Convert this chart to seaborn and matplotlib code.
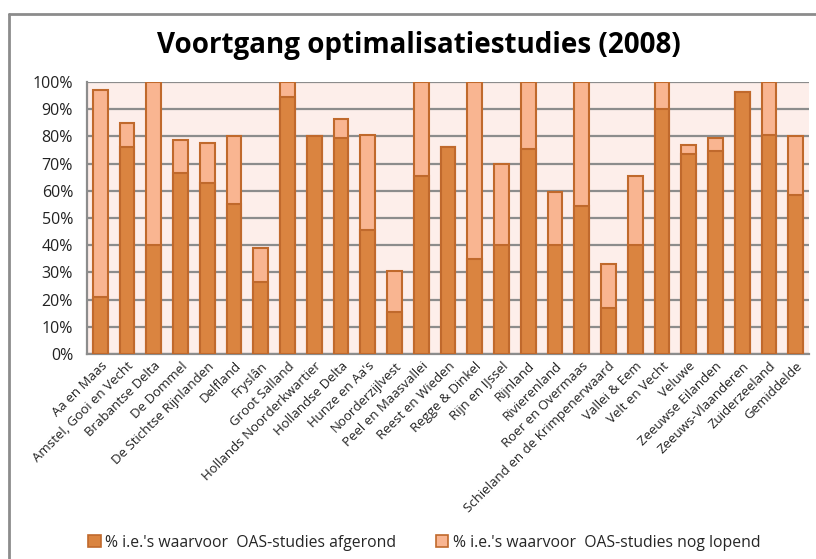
import seaborn as sns
import matplotlib.pyplot as plt
from matplotlib.patches import Patch
from matplotlib.lines import Line2D
from matplotlib.ticker import PercentFormatter

categories = ["Aa en Maas", "Amstel, Gooi en Vecht", "Brabantse Delta", "De Dommel",
              "De Stichtse Rijnlanden", "Delfland", "Fryslân", "Groot Salland",
              "Hollands Noorderkwartier", "Hollandse Delta", "Hunze en Aa's",
              "Noorderzijlvest", "Peel en Maasvallei", "Reest en Wieden",
              "Regge & Dinkel", "Rijn en IJssel", "Rijnland", "Rivierenland",
              "Roer en Overmaas", "Schieland en de Krimpenerwaard", "Vallei & Eem",
              "Velt en Vecht", "Veluwe", "Zeeuwse Eilanden", "Zeeuws-Vlaanderen",
              "Zuiderzeeland", "Gemiddelde"]
afgerond = [21, 76, 40, 66.5, 63, 55, 26.5, 94.5, 80, 79.5, 45.5, 15.5, 65.5, 76,
            35, 40, 75.5, 40, 54.5, 17, 40, 90, 73.5, 74.5, 96.5, 80.5, 58.5]
lopend = [76, 9, 60, 12, 14.5, 25, 12.5, 5.5, 0, 7, 35, 15, 34.5, 0,
          65, 30, 24.5, 19.5, 45.5, 16, 25.5, 10, 3.5, 5, 0, 19.5, 21.5]
totaal = [a + b for a, b in zip(afgerond, lopend)]

dark = "#DA8440"
light = "#F9B591"
edge = "#C0692C"

sns.set_style("white")
plt.rcParams['font.family'] = ['Open Sans', 'DejaVu Sans']

fig = plt.figure(figsize=(8.16, 5.59), dpi=100)
ax = fig.add_axes([87 / 816, 1 - 354 / 559, (809 - 87) / 816, (354 - 82) / 559])
ax.set_facecolor("#FDEEEA")

sns.barplot(x=categories, y=totaal, color=light, edgecolor=edge, linewidth=1.5,
            width=0.55, saturation=1, ax=ax, zorder=3)
sns.barplot(x=categories, y=afgerond, color=dark, edgecolor=edge, linewidth=1.5,
            width=0.55, saturation=1, ax=ax, zorder=4)

ax.set_ylim(0, 100)
ax.set_xlim(-0.5, len(categories) - 0.5)
ax.set_yticks(range(0, 101, 10))
ax.yaxis.set_major_formatter(PercentFormatter(decimals=0))
ax.grid(axis="y", color="#8C8C8C", linewidth=1.6, zorder=0)
ax.set_axisbelow(True)
for s in ["top", "right"]:
    ax.spines[s].set_visible(False)
for s in ["left", "bottom"]:
    ax.spines[s].set_color("#8C8C8C")
    ax.spines[s].set_linewidth(1.6)
ax.tick_params(axis="y", labelsize=11.5, length=0, pad=10, colors="#222222")
ax.tick_params(axis="x", length=0, pad=4)
ax.set_xticks(range(len(categories)))
ax.set_xticklabels(categories, rotation=45, ha="right", rotation_mode="anchor",
                   fontsize=9.5, color="#222222")
ax.set_xlabel("")
ax.set_ylabel("")

fig.text(0.513, 0.918, "Voortgang optimalisatiestudies (2008)", ha="center", va="center",
         fontsize=20, fontweight="bold", color="black")

handles = [Patch(facecolor=dark, edgecolor=edge, linewidth=1.2),
           Patch(facecolor=light, edgecolor=edge, linewidth=1.2)]
labels = ["% i.e.'s waarvoor  OAS-studies afgerond", "% i.e.'s waarvoor  OAS-studies nog lopend"]
fig.legend(handles, labels, loc="center", bbox_to_anchor=(0.52, 0.029), ncol=2,
           frameon=False, fontsize=11.3, handlelength=0.8, handleheight=0.8,
           handletextpad=0.3, columnspacing=2.5)

fig.add_artist(Line2D([9 / 816, 9 / 816], [0, 1 - 13.5 / 559], transform=fig.transFigure,
                      color="#8C8C8C", linewidth=2))
fig.add_artist(Line2D([9 / 816, 1], [1 - 13.5 / 559, 1 - 13.5 / 559], transform=fig.transFigure,
                      color="#8C8C8C", linewidth=2))

fig.savefig("out.png", dpi=100)
plt.close()
